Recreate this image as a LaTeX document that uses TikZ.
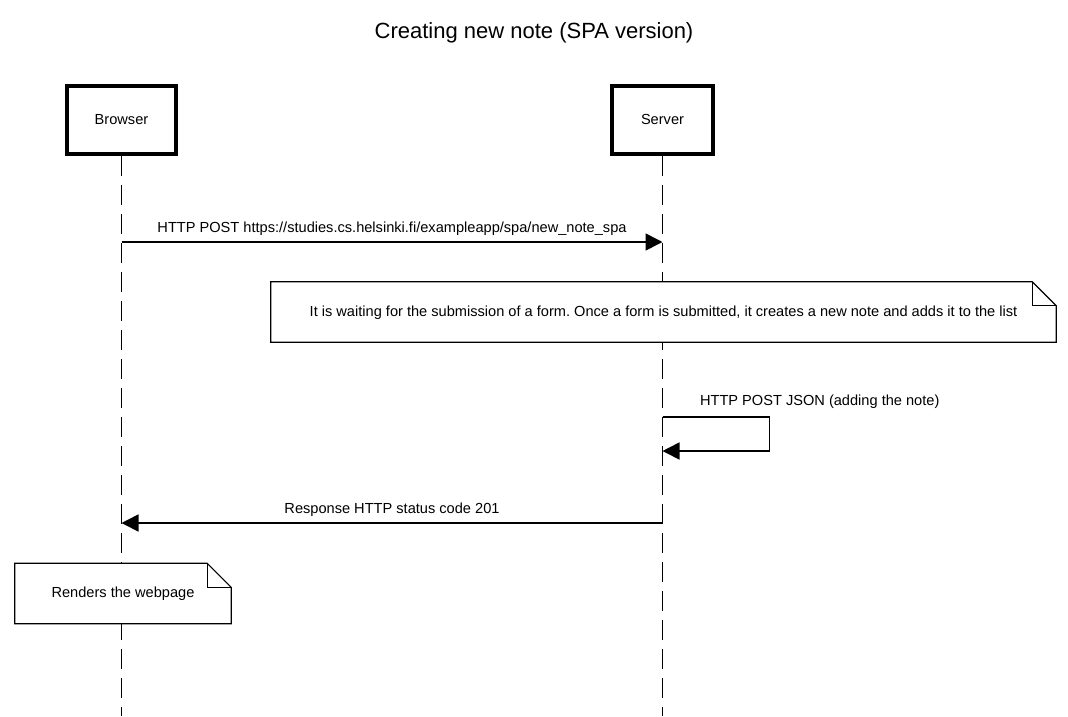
\documentclass[tikz,border=0pt]{standalone}
\usepackage{fontspec}
\setmainfont{Liberation Sans}
\frenchspacing
\usetikzlibrary{positioning, arrows.meta}

\begin{document}
\begin{tikzpicture}[x=1pt, y=-1pt, font=\fontsize{14.6}{17}\selectfont,
		actor/.style={draw, line width=4pt, minimum width=#1, minimum height=68pt, text height=8pt, text depth=0pt},
		lifeline/.style={line width=1.6pt, dash pattern=on 20pt off 9pt},
		msg/.style={line width=1.6pt, -{Triangle[length=17pt, width=17pt]}},
		notebox/.style={fill=white, minimum width=#1, minimum height=60pt, inner sep=0pt, text height=8pt, text depth=0pt}]
			\useasboundingbox (0,0) rectangle (1068,716);
			\node (title) at (534,33) {\fontsize{22}{25}\selectfont Creating new note (SPA version)};
			\node[actor=109pt] (browser) at (121.5,120) {Browser};
			\node[actor=101pt, right=432pt of browser] (server) {Server};
			\coordinate (bottom) at (0,716);
			\coordinate (m1) at (0,242);
			\coordinate (m2) at (0,417);
			\coordinate (m2b) at (0,451);
			\coordinate (m3) at (0,523);
			\draw[lifeline] (browser.south) -- (browser |- bottom);
			\draw[lifeline] (server.south) -- (server |- bottom);
			\draw[msg] (browser |- m1) -- node[midway, yshift=13.5pt] {HTTP POST https://studies.cs.helsinki.fi/exampleapp/spa/new\_note\_spa} (server |- m1);
			\node[notebox=785pt] (waiting) at (663.5,312) {It is waiting for the submission of a form. Once a form is submitted, it creates a new note and adds it to the list};
			\draw[msg] (server |- m2) -- ++(107,0) |- (server |- m2b);
			\node[anchor=west] (selflabel) at ([xshift=34pt, yshift=15pt]server |- m2) {HTTP POST JSON (adding the note)};
			\draw[msg] (server |- m3) -- node[midway, yshift=13.5pt] {Response HTTP status code 201} (browser |- m3);
			\node[notebox=216pt] (render) at (123,593.5) {Renders the webpage};
			\foreach \n in {waiting, render} {
				\draw[line width=1.2pt] (\n.north west) -- ([xshift=-24pt]\n.north east) -- ([yshift=-24pt]\n.north east) -- (\n.south east) -- (\n.south west) -- cycle;
				\draw[line width=1.2pt] ([xshift=-24pt]\n.north east) |- ([yshift=-24pt]\n.north east);
			}
		\end{tikzpicture}
\end{document}
